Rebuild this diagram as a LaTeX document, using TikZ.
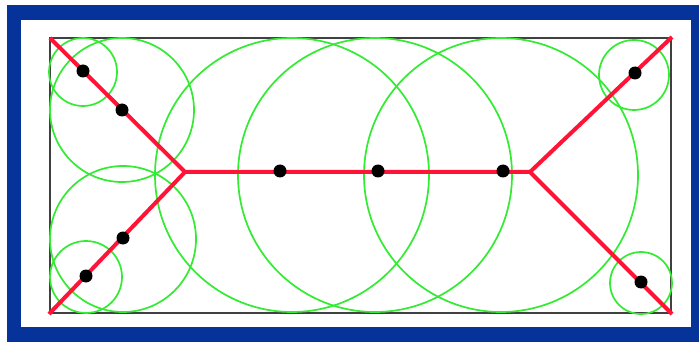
\documentclass[tikz,border=0pt]{standalone}
\definecolor{frameblue}{RGB}{6,51,153}
\definecolor{diskgreen}{RGB}{50,235,50}
\definecolor{axisred}{RGB}{255,20,55}
\begin{document}
\begin{tikzpicture}[x=1pt, y=-1pt,
  disk/.style={draw=diskgreen, line width=1.7pt},
  axisline/.style={draw=axisred, line width=4pt, line join=miter},
  samplept/.style={circle, fill=black, inner sep=0pt, minimum size=13pt}]
% frame
\useasboundingbox (0,0) rectangle (699,342);
\fill[frameblue] (7,5) rectangle (699,342);
\fill[white] (21,20) rectangle (691,327);

% domain
\draw[black!75, line width=1.5pt] (50,38) rectangle (671,313);

% corners and branch points
\coordinate (tl) at (50,38);
\coordinate (bl) at (49,314);
\coordinate (tr) at (672,37);
\coordinate (br) at (672,314);
\coordinate (jl) at (185,172);
\coordinate (jr) at (530,172);

% maximal disks
\draw[disk] (83,72) circle (34);
\draw[disk] (122,110) circle (72);
\draw[disk] (86,277) circle (36);
\draw[disk] (123,239) circle (73);
\draw[disk] (292,175) circle (137);
\draw[disk] (375,175) circle (137);
\draw[disk] (501,175) circle (137);
\draw[disk] (634,75) circle (35);
\draw[disk] (641,283) circle (31);

% medial axis
\draw[axisline] (tl) -- (jl) -- (jr) -- (tr);
\draw[axisline] (bl) -- (jl);
\draw[axisline] (jr) -- (br);

% disk centres
\node[samplept] (c1) at (83,71) {};
\node[samplept] (c2) at (122,110) {};
\node[samplept] (c3) at (86,276) {};
\node[samplept] (c4) at (123,238) {};
\node[samplept] (c5) at (280,171) {};
\node[samplept] (c6) at (378,171) {};
\node[samplept] (c7) at (503,171) {};
\node[samplept] (c8) at (635,73) {};
\node[samplept] (c9) at (641,282) {};
\end{tikzpicture}
\end{document}
